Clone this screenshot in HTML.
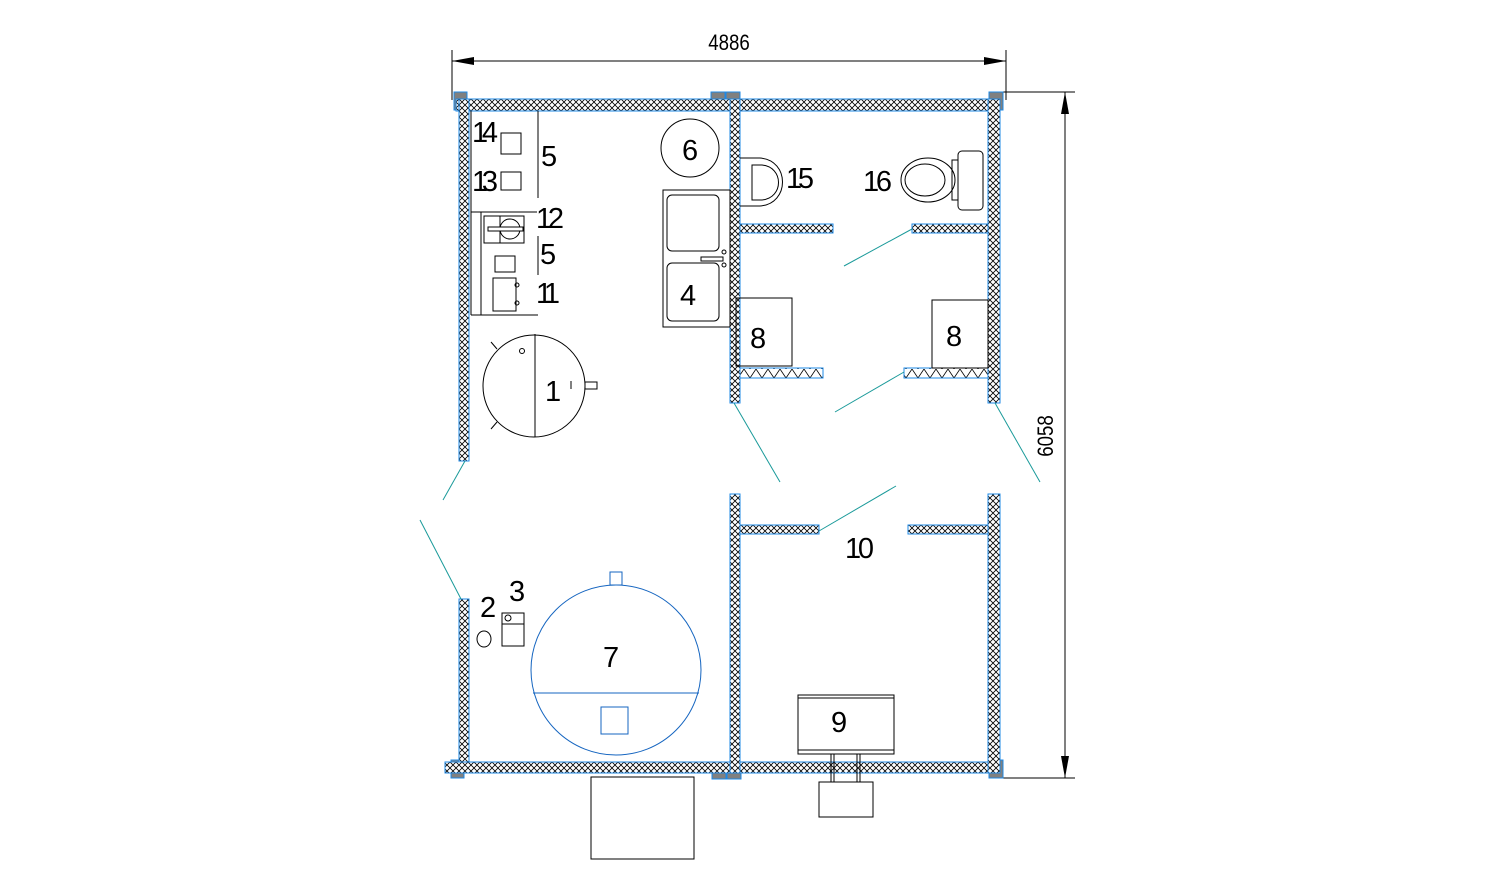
<!DOCTYPE html>
<html><head><meta charset="utf-8"><style>
html,body{margin:0;padding:0;background:#fff;width:1494px;height:887px;overflow:hidden}
svg{display:block}
text{font-family:"Liberation Sans","DejaVu Sans",sans-serif;fill:#000}
</style></head><body>
<svg width="1494" height="887" viewBox="0 0 1494 887" xmlns="http://www.w3.org/2000/svg">
<defs>
<pattern id="h" width="6" height="6" patternUnits="userSpaceOnUse">
<rect width="6" height="6" fill="#fff"/>
<path d="M0,0L6,6M6,0L0,6" stroke="#000" stroke-width="0.8"/>
</pattern>
<pattern id="z" width="12" height="9" patternUnits="userSpaceOnUse">
<rect width="12" height="9" fill="#fff"/>
<path d="M0,0L6,9L12,0" stroke="#000" stroke-width="0.8" fill="none"/>
</pattern>
</defs>
<g fill="none" stroke="#000" stroke-width="1">
<line x1="452" y1="50" x2="452" y2="100"/><line x1="1006" y1="50" x2="1006" y2="100"/>
<line x1="452" y1="61" x2="1006" y2="61"/>
<line x1="1000" y1="92" x2="1075" y2="92"/><line x1="1000" y1="778" x2="1075" y2="778"/>
<line x1="1065" y1="92" x2="1065" y2="778"/>
</g>
<polygon points="452,61 474,57 474,65" fill="#000"/>
<polygon points="1006,61 984,57 984,65" fill="#000"/>
<polygon points="1065,92 1061,114 1069,114" fill="#000"/>
<polygon points="1065,778 1061,756 1069,756" fill="#000"/>
<text transform="translate(729,50) scale(0.85,1)" font-size="22" text-anchor="middle">4886</text>
<text transform="translate(1053,436) rotate(-90) scale(0.85,1)" font-size="22" text-anchor="middle">6058</text>

<g fill="#808080" stroke="#1e88e5" stroke-width="1">
<rect x="454" y="92" width="13" height="18"/><rect x="711" y="92" width="14" height="7"/><rect x="726" y="92" width="14" height="7"/>
<rect x="989" y="92" width="14" height="18"/>
<rect x="451" y="760" width="13" height="18"/><rect x="712" y="773" width="14" height="6"/><rect x="727" y="773" width="14" height="6"/>
<rect x="989" y="760" width="14" height="18"/>
</g>
<g fill="url(#h)" stroke="#1e88e5" stroke-width="1">
<rect x="456" y="99" width="544" height="12"/>
<rect x="459" y="99" width="10" height="362"/>
<rect x="459" y="599" width="10" height="174"/>
<rect x="445" y="762" width="555" height="11"/>
<rect x="988" y="99" width="12" height="304"/>
<rect x="988" y="494" width="12" height="279"/>
<rect x="730" y="99" width="10" height="304"/>
<rect x="730" y="494" width="10" height="279"/>
<rect x="740" y="224" width="93" height="9"/>
<rect x="912" y="224" width="76" height="9"/>
<rect x="740" y="525" width="79" height="9"/>
<rect x="908" y="525" width="80" height="9"/>
</g>
<g fill="url(#z)" stroke="#1e88e5" stroke-width="1">
<rect x="740" y="368" width="83" height="10"/>
<rect x="904" y="368" width="84" height="10"/>
</g>
<g stroke="#1a9a9a" stroke-width="1">
<line x1="844" y1="266" x2="912" y2="229"/>
<line x1="835" y1="412" x2="904" y2="372"/>
<line x1="734" y1="403" x2="780" y2="482"/>
<line x1="995" y1="403" x2="1040" y2="482"/>
<line x1="819" y1="531" x2="896" y2="486"/>
<line x1="443" y1="500" x2="465" y2="461"/>
<line x1="420" y1="520" x2="461" y2="599"/>
</g>
<g fill="none" stroke="#000" stroke-width="1">
<line x1="471" y1="111" x2="471" y2="315"/>
<line x1="538" y1="111" x2="538" y2="198"/>
<line x1="471" y1="212" x2="537" y2="212"/>
<line x1="481" y1="212" x2="481" y2="315"/>
<line x1="471" y1="315" x2="538" y2="315"/>
<line x1="538" y1="236" x2="538" y2="275"/>
<rect x="501" y="133" width="20" height="21"/>
<rect x="501" y="172" width="20" height="18"/>
<rect x="484" y="216" width="40" height="27"/>
<line x1="500" y1="216" x2="500" y2="243"/>
<circle cx="510" cy="229" r="10"/>
<rect x="488" y="227" width="35" height="4" fill="#fff"/>
<rect x="495" y="256" width="20" height="16"/>
<rect x="493" y="278" width="23" height="33"/>
<circle cx="517" cy="285" r="2"/><circle cx="517" cy="303" r="2"/>
<circle cx="690" cy="148" r="29"/>
<rect x="663" y="190" width="67" height="137"/>
<rect x="667" y="195" width="52" height="56" rx="5"/>
<rect x="667" y="263" width="52" height="58" rx="5"/>
<rect x="701" y="257" width="22" height="4"/>
<circle cx="724" cy="252" r="2"/><circle cx="724" cy="265" r="2"/>
<circle cx="534" cy="386" r="51"/>
<line x1="535" y1="334" x2="535" y2="437"/>
<rect x="585" y="382" width="12" height="7"/>
<circle cx="522" cy="351" r="2.5"/>
<line x1="571" y1="381" x2="571" y2="389"/>
<line x1="491" y1="342" x2="497" y2="349"/><line x1="491" y1="429" x2="497" y2="422"/>
<path d="M740,158 L760,158 C790,160 790,204 760,206 L740,206"/>
<path d="M752,165 L762,165 C784,167 784,198 762,200 L752,200 Z"/>
<ellipse cx="928" cy="180" rx="27" ry="22"/>
<ellipse cx="925" cy="180" rx="20" ry="16"/>
<rect x="952" y="160" width="6" height="40"/>
<rect x="958" y="151" width="25" height="59" rx="4"/>
<rect x="736" y="298" width="56" height="68"/>
<rect x="932" y="300" width="56" height="68"/>
<line x1="720" y1="190" x2="730" y2="190"/>
<ellipse cx="484" cy="639" rx="7" ry="8"/>
<rect x="502" y="613" width="22" height="33"/>
<line x1="502" y1="624" x2="524" y2="624"/>
<circle cx="508" cy="618" r="3"/>
<rect x="798" y="695" width="96" height="59"/>
<line x1="798" y1="698" x2="894" y2="698"/>
<line x1="798" y1="750" x2="894" y2="750"/>
<line x1="831" y1="754" x2="831" y2="782"/><line x1="834" y1="754" x2="834" y2="782"/>
<line x1="857" y1="754" x2="857" y2="782"/><line x1="860" y1="754" x2="860" y2="782"/>
<rect x="819" y="782" width="54" height="35"/>
<rect x="591" y="777" width="103" height="82"/>
</g>
<g fill="none" stroke="#1565c0" stroke-width="1">
<circle cx="616" cy="670" r="85"/>
<line x1="533" y1="693" x2="699" y2="693"/>
<rect x="601" y="707" width="27" height="27"/>
<rect x="610" y="572" width="12" height="13"/>
</g>
<g font-size="29">
<text x="472" y="142" textLength="26">14</text>
<text x="472" y="191" textLength="26">13</text>
<text x="541" y="166">5</text>
<text x="536" y="228" textLength="28">12</text>
<text x="540" y="264">5</text>
<text x="536" y="303" textLength="24">11</text>
<text x="682" y="160">6</text>
<text x="680" y="305">4</text>
<text x="545" y="401">1</text>
<text x="786" y="188" textLength="28">15</text>
<text x="863" y="191" textLength="29">16</text>
<text x="750" y="348">8</text>
<text x="946" y="346">8</text>
<text x="845" y="558" textLength="29">10</text>
<text x="480" y="617">2</text>
<text x="509" y="601">3</text>
<text x="603" y="667">7</text>
<text x="831" y="732">9</text>
</g>
</svg>
</body></html>
